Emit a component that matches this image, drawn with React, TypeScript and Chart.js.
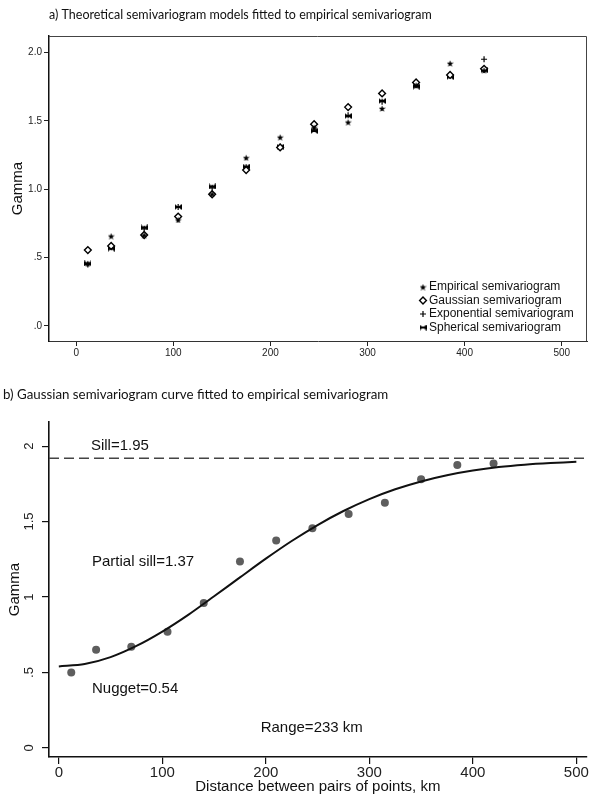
import React, { useEffect, useRef } from 'react';
import { Chart, registerables } from 'chart.js';

Chart.register(...registerables);

// ---------- data ----------
const distances = [12, 36, 70, 105, 140, 175, 210, 245, 280, 315, 350, 385, 420];

// panel a
const empiricalA = [0.455, 0.657, 0.665, 0.775, 0.965, 1.23, 1.38, 1.45, 1.49, 1.59, 1.76, 1.92, 1.87];
const gaussianA = [0.555, 0.585, 0.665, 0.8, 0.963, 1.14, 1.305, 1.475, 1.6, 1.7, 1.78, 1.835, 1.88];
const exponentialA = [0.45, 0.575, 0.71, 0.87, 1.01, 1.16, 1.31, 1.44, 1.54, 1.64, 1.76, 1.83, 1.95];
const sphericalA = [0.457, 0.565, 0.72, 0.87, 1.02, 1.165, 1.31, 1.425, 1.535, 1.645, 1.75, 1.82, 1.87];
const legendLabelsA = [
  'Empirical semivariogram',
  'Gaussian semivariogram',
  'Exponential semivariogram',
  'Spherical semivariogram',
];
const titleA = 'a) Theoretical semivariogram models fitted to empirical semivariogram';
const xTicksA = [0, 100, 200, 300, 400, 500];
const yTicksA = [0, 0.5, 1, 1.5, 2];
const yTickLabelsA = ['.0', '.5', '1.0', '1.5', '2.0'];

// panel b
const empiricalB = [0.5, 0.65, 0.67, 0.77, 0.96, 1.235, 1.375, 1.455, 1.55, 1.625, 1.78, 1.875, 1.885];
const curveX = [0, 25, 50, 75, 100, 125, 150, 175, 200, 225, 250, 275, 300, 325, 350, 375, 400, 425, 450, 475, 500];
const curveY = [0.54, 0.556, 0.602, 0.676, 0.771, 0.882, 1.005, 1.13, 1.254, 1.371, 1.477, 1.57, 1.649, 1.714, 1.766, 1.807, 1.838, 1.861, 1.877, 1.888, 1.896];
const sillValue = 1.92;
const titleB = 'b) Gaussian semivariogram curve fitted to empirical semivariogram';
const xTicksB = [0, 100, 200, 300, 400, 500];
const yTicksB = [0, 0.5, 1, 1.5, 2];
const yTickLabelsB = ['0', '.5', '1', '1.5', '2'];
const annotationTexts = ['Sill=1.95', 'Partial sill=1.37', 'Nugget=0.54', 'Range=233 km'];

// ---------- marker images ----------
function makeStar(size: number): HTMLCanvasElement {
  const c = document.createElement('canvas');
  c.width = size;
  c.height = size;
  const g = c.getContext('2d')!;
  const cx = size / 2, cy = size / 2 + 0.4;
  const R = size / 2, r = R * 0.45;
  g.beginPath();
  for (let i = 0; i < 10; i++) {
    const ang = -Math.PI / 2 + (i * Math.PI) / 5;
    const rad = i % 2 === 0 ? R : r;
    const px = cx + rad * Math.cos(ang);
    const py = cy + rad * Math.sin(ang);
    if (i === 0) g.moveTo(px, py);
    else g.lineTo(px, py);
  }
  g.closePath();
  g.fillStyle = '#000';
  g.fill();
  return c;
}

function makeBowtie(w: number, h: number): HTMLCanvasElement {
  const c = document.createElement('canvas');
  c.width = w;
  c.height = h;
  const g = c.getContext('2d')!;
  g.fillStyle = '#000';
  g.beginPath();
  g.moveTo(0, 0);
  g.lineTo(w / 2, h / 2);
  g.lineTo(0, h);
  g.closePath();
  g.fill();
  g.beginPath();
  g.moveTo(w, 0);
  g.lineTo(w / 2, h / 2);
  g.lineTo(w, h);
  g.closePath();
  g.fill();
  g.fillRect(0, h / 2 - 1, w, 2);
  return c;
}

function drawMarker(ctx: CanvasRenderingContext2D, style: any, x: number, y: number) {
  ctx.save();
  if (typeof style === 'object') {
    ctx.drawImage(style, x - style.width / 2, y - style.height / 2);
  } else if (style === 'rectRot') {
    const r = 3.4;
    ctx.beginPath();
    ctx.moveTo(x, y - r);
    ctx.lineTo(x + r, y);
    ctx.lineTo(x, y + r);
    ctx.lineTo(x - r, y);
    ctx.closePath();
    ctx.fillStyle = '#fff';
    ctx.fill();
    ctx.lineWidth = 1.4;
    ctx.strokeStyle = '#000';
    ctx.stroke();
  } else if (style === 'cross') {
    const r = 3;
    ctx.beginPath();
    ctx.moveTo(x - r, y);
    ctx.lineTo(x + r, y);
    ctx.moveTo(x, y - r);
    ctx.lineTo(x, y + r);
    ctx.lineWidth = 1.2;
    ctx.strokeStyle = '#000';
    ctx.stroke();
  }
  ctx.restore();
}

const pts = (xs: number[], ys: number[]) => xs.map((x, i) => ({ x, y: ys[i] }));

export default function App() {
  const refA = useRef<HTMLCanvasElement>(null);
  const refB = useRef<HTMLCanvasElement>(null);

  useEffect(() => {
    const star = makeStar(7);
    const bowtie = makeBowtie(7, 6);
    const styles: any[] = [star, 'rectRot', 'cross', bowtie];

    const frameA = {
      id: 'frameA',
      afterDatasetsDraw(chart: any) {
        const { ctx, chartArea: a } = chart;
        ctx.save();
        ctx.strokeStyle = '#444';
        ctx.lineWidth = 1;
        ctx.beginPath();
        ctx.moveTo(a.left, a.top + 0.5);
        ctx.lineTo(a.right - 0.5, a.top + 0.5);
        ctx.lineTo(a.right - 0.5, a.bottom);
        ctx.stroke();
        ctx.restore();
      },
    };

    const legendA = {
      id: 'legendA',
      afterDraw(chart: any) {
        const { ctx, chartArea: a } = chart;
        ctx.save();
        ctx.font = '12px "Liberation Sans", Arial, sans-serif';
        ctx.fillStyle = '#111';
        ctx.textBaseline = 'middle';
        ctx.textAlign = 'left';
        legendLabelsA.forEach((label, i) => {
          const y = a.bottom - 54 + i * 13.5;
          drawMarker(ctx, styles[i], a.right - 164, y);
          ctx.fillText(label, a.right - 158, y);
        });
        ctx.restore();
      },
    };

    const tickFontA = { family: '"Liberation Sans", Arial, sans-serif', size: 10 };

    const chartA = new Chart(refA.current!, {
      type: 'scatter',
      data: {
        datasets: [
          {
            label: legendLabelsA[0],
            data: pts(distances, empiricalA),
            pointStyle: star as any,
            pointRadius: 3,
          },
          {
            label: legendLabelsA[1],
            data: pts(distances, gaussianA),
            pointStyle: 'rectRot',
            pointRadius: 3.4,
            borderWidth: 1.4,
            borderColor: '#000',
            backgroundColor: '#fff',
          },
          {
            label: legendLabelsA[2],
            data: pts(distances, exponentialA),
            pointStyle: 'cross',
            pointRadius: 3,
            borderWidth: 1.2,
            borderColor: '#000',
            backgroundColor: '#000',
          },
          {
            label: legendLabelsA[3],
            data: pts(distances, sphericalA),
            pointStyle: bowtie as any,
            pointRadius: 3,
          },
        ],
      },
      options: {
        responsive: false,
        animation: false,
        events: [],
        layout: { padding: { left: 0, right: 13, top: 0, bottom: 0 } },
        plugins: {
          legend: { display: false },
          tooltip: { enabled: false },
          title: {
            display: true,
            text: titleA,
            align: 'start',
            fullSize: false,
            color: '#111',
            font: { family: 'Lato, sans-serif', size: 12.5, weight: 'normal' },
            padding: { top: 7.5, bottom: 13.5 },
          },
        },
        scales: {
          x: {
            type: 'linear',
            min: -28,
            max: 526,
            afterBuildTicks: (s: any) => {
              s.ticks = xTicksA.map((v) => ({ value: v }));
            },
            afterFit: (s: any) => {
              s.height = 39;
            },
            grid: { drawOnChartArea: false, drawTicks: true, tickLength: 5, color: '#222', lineWidth: 1 },
            border: { color: '#333', width: 1 },
            ticks: { font: tickFontA, color: '#222', padding: 1, maxRotation: 0 },
          },
          y: {
            type: 'linear',
            min: -0.11,
            max: 2.12,
            afterBuildTicks: (s: any) => {
              s.ticks = yTicksA.map((v) => ({ value: v }));
            },
            afterFit: (s: any) => {
              s.width = 49;
            },
            grid: { drawOnChartArea: false, drawTicks: true, tickLength: 5, color: '#222', lineWidth: 1 },
            border: { color: '#111', width: 1.5 },
            ticks: {
              font: tickFontA,
              color: '#222',
              padding: 2,
              callback: (_v: any, i: number) => yTickLabelsA[i],
            },
            title: {
              display: true,
              text: 'Gamma',
              color: '#111',
              font: { family: '"Liberation Sans", Arial, sans-serif', size: 15 },
              padding: { top: 9, bottom: 0 },
            },
          },
        },
      },
      plugins: [frameA, legendA],
    });

    const annotationAnchors = [
      { x: 31, y: 2.0 },
      { x: 32, y: 1.235 },
      { x: 32, y: 0.39 },
      { x: 195, y: 0.135 },
    ];
    const annotationsB = {
      id: 'annotationsB',
      afterDraw(chart: any) {
        const { ctx } = chart;
        const xs = chart.scales.x, ys = chart.scales.y;
        ctx.save();
        ctx.font = '15px "Liberation Sans", Arial, sans-serif';
        ctx.fillStyle = '#111';
        ctx.textBaseline = 'middle';
        ctx.textAlign = 'left';
        annotationTexts.forEach((t, i) => {
          const p = annotationAnchors[i];
          ctx.fillText(t, xs.getPixelForValue(p.x), ys.getPixelForValue(p.y));
        });
        ctx.restore();
      },
    };

    const xMinB = -9.5, xMaxB = 510;
    const fontB = { family: '"Liberation Sans", Arial, sans-serif', size: 15 };

    const chartB = new Chart(refB.current!, {
      type: 'scatter',
      data: {
        datasets: [
          {
            label: 'Gaussian model',
            data: pts(curveX, curveY),
            showLine: true,
            pointRadius: 0,
            borderColor: '#111',
            borderWidth: 2,
            tension: 0.3,
          },
          {
            label: 'Sill',
            data: [
              { x: xMinB, y: sillValue },
              { x: xMaxB, y: sillValue },
            ],
            showLine: true,
            pointRadius: 0,
            borderColor: '#444',
            borderWidth: 1.4,
            borderDash: [10, 5],
          },
          {
            label: 'Empirical semivariogram',
            data: pts(distances, empiricalB),
            pointRadius: 4,
            pointStyle: 'circle',
            borderWidth: 0,
            backgroundColor: '#5e5e5e',
            borderColor: '#5e5e5e',
          },
        ],
      },
      options: {
        responsive: false,
        animation: false,
        events: [],
        layout: { padding: { left: 3, right: 13.3, top: 0, bottom: 0 } },
        plugins: {
          legend: { display: false },
          tooltip: { enabled: false },
          title: {
            display: true,
            text: titleB,
            align: 'start',
            fullSize: true,
            color: '#111',
            font: { family: 'Lato, sans-serif', size: 13.3, weight: 'normal' },
            padding: { top: 7, bottom: 19 },
          },
        },
        scales: {
          x: {
            type: 'linear',
            min: xMinB,
            max: xMaxB,
            afterBuildTicks: (s: any) => {
              s.ticks = xTicksB.map((v) => ({ value: v }));
            },
            afterFit: (s: any) => {
              s.height = 41;
            },
            grid: { drawOnChartArea: false, drawTicks: true, tickLength: 7, color: '#111', lineWidth: 1.2 },
            border: { color: '#111', width: 1.6 },
            ticks: { font: fontB, color: '#222', padding: 0, maxRotation: 0 },
            title: {
              display: true,
              text: 'Distance between pairs of points, km',
              color: '#111',
              font: fontB,
              padding: { top: 0, bottom: 2.3 },
            },
          },
          y: {
            type: 'linear',
            min: -0.06,
            max: 2.16,
            afterBuildTicks: (s: any) => {
              s.ticks = yTicksB.map((v) => ({ value: v }));
            },
            afterFit: (s: any) => {
              s.width = 46;
            },
            grid: { drawOnChartArea: false, drawTicks: true, tickLength: 7, color: '#111', lineWidth: 1.2 },
            border: { color: '#111', width: 1.6 },
            ticks: {
              font: { family: '"Liberation Sans", Arial, sans-serif', size: 13 },
              color: '#222',
              padding: 4,
              minRotation: 90,
              maxRotation: 90,
              crossAlign: 'center',
              callback: (_v: any, i: number) => yTickLabelsB[i],
            },
            title: {
              display: true,
              text: 'Gamma',
              color: '#111',
              font: fontB,
              padding: { top: 3, bottom: 0 },
            },
          },
        },
      },
      plugins: [annotationsB],
    });

    return () => {
      chartA.destroy();
      chartB.destroy();
    };
  }, []);

  return (
    <div style={{ position: 'absolute', left: 0, top: 0, width: 600, height: 798, background: '#fff' }}>
      <canvas ref={refA} width={600} height={380} style={{ position: 'absolute', left: 0, top: 0, display: 'block' }} />
      <canvas ref={refB} width={600} height={418} style={{ position: 'absolute', left: 0, top: 380, display: 'block' }} />
    </div>
  );
}
